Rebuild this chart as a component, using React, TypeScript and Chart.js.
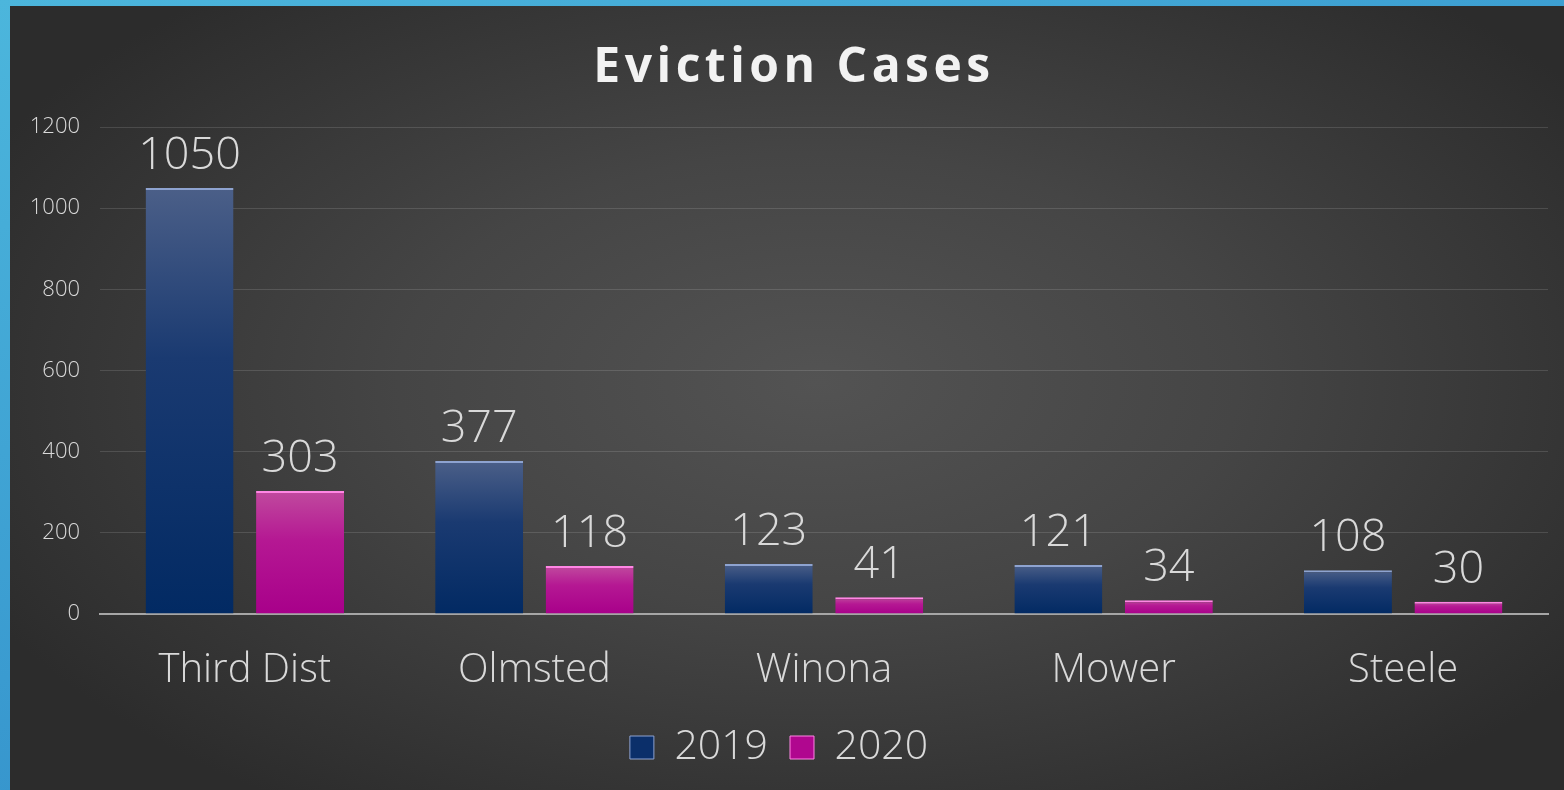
import React, { useEffect, useRef } from "react";
import { Chart, registerables } from "chart.js";

Chart.register(...registerables);

const categories = ["Third Dist", "Olmsted", "Winona", "Mower", "Steele"];
const values2019 = [1050, 377, 123, 121, 108];
const values2020 = [303, 118, 41, 34, 30];
const seriesNames = ["2019", "2020"];
const yTicks = [0, 200, 400, 600, 800, 1000, 1200];
const titleText = "Eviction Cases";

const FONT = "'Open Sans', 'DejaVu Sans', sans-serif";
const TEXT = "#d9d9d9";

const palettes = [
  { solid: "#0b2f6a", top: "#4b5f88", mid: "#1a3a71", bottom: "#022a63", edge: "#8ea3d0" },
  { solid: "#b0078f", top: "#c04a9e", mid: "#b51893", bottom: "#a8008a", edge: "#ff86e4" },
];

function barGradient(pi: number) {
  return (ctx: any) => {
    const chart = ctx.chart;
    const p = palettes[pi];
    if (!chart.chartArea || ctx.type !== "data") return p.solid;
    const ys = chart.scales.y;
    const v = ctx.raw as number;
    const top = ys.getPixelForValue(v);
    const bottom = ys.getPixelForValue(0);
    if (!isFinite(top) || !isFinite(bottom) || bottom - top < 1) return p.solid;
    const g = chart.ctx.createLinearGradient(0, top, 0, bottom);
    g.addColorStop(0, p.top);
    g.addColorStop(0.4, p.mid);
    g.addColorStop(1, p.bottom);
    return g;
  };
}

const titlePlugin = {
  id: "customTitle",
  afterDraw(chart: any) {
    const c = chart.ctx;
    c.save();
    c.font = `bold 48px ${FONT}`;
    c.fillStyle = "#f2f2f2";
    c.textAlign = "center";
    c.textBaseline = "alphabetic";
    try { (c as any).letterSpacing = "4.5px"; } catch (e) {}
    c.fillText(titleText, chart.width / 2 + 7, 76);
    try { (c as any).letterSpacing = "0px"; } catch (e) {}
    c.restore();
  },
};

const valueLabelPlugin = {
  id: "valueLabels",
  afterDatasetsDraw(chart: any) {
    const c = chart.ctx;
    c.save();
    c.font = `300 45px ${FONT}`;
    c.fillStyle = TEXT;
    c.textAlign = "center";
    c.textBaseline = "alphabetic";
    chart.data.datasets.forEach((ds: any, di: number) => {
      const meta = chart.getDatasetMeta(di);
      meta.data.forEach((el: any, i: number) => {
        c.fillText(String(ds.data[i]), el.x, el.y - 19);
      });
    });
    c.restore();
  },
};

export default function App() {
  const ref = useRef<HTMLCanvasElement | null>(null);

  useEffect(() => {
    document.body.style.margin = "0";
    if (!ref.current) return;
    const chart = new Chart(ref.current, {
      type: "bar",
      data: {
        labels: categories,
        datasets: [
          {
            label: seriesNames[0],
            data: values2019,
            backgroundColor: barGradient(0),
            borderColor: palettes[0].edge,
            borderWidth: { top: 2, left: 0, right: 0, bottom: 0 },
            borderSkipped: "bottom",
            categoryPercentage: 0.763,
            barPercentage: 0.796,
          },
          {
            label: seriesNames[1],
            data: values2020,
            backgroundColor: barGradient(1),
            borderColor: palettes[1].edge,
            borderWidth: { top: 2, left: 0, right: 0, bottom: 0 },
            borderSkipped: "bottom",
            categoryPercentage: 0.763,
            barPercentage: 0.796,
          },
        ],
      },
      options: {
        animation: false,
        responsive: true,
        maintainAspectRatio: false,
        layout: { padding: { top: 121, left: 0, right: 16, bottom: 12 } },
        scales: {
          x: {
            grid: { display: false, drawTicks: false },
            border: { display: true, color: "#a6a6a6", width: 2 },
            ticks: { color: TEXT, font: { family: FONT, size: 40, weight: "300" as any }, padding: 33 },
            afterFit: (s: any) => { s.height = 91; },
          },
          y: {
            min: 0,
            max: 1200,
            afterBuildTicks: (s: any) => { s.ticks = yTicks.map((v) => ({ value: v })); },
            grid: { color: "rgba(255,255,255,0.13)", lineWidth: 1, drawTicks: false },
            border: { display: false },
            ticks: {
              color: TEXT,
              font: { family: FONT, size: 22, weight: "300" as any },
              padding: 20,
              callback: (v: any) => String(v),
            },
            afterFit: (s: any) => { s.width = 90; },
          },
        },
        plugins: {
          title: { display: false },
          tooltip: { enabled: false },
          legend: {
            position: "bottom",
            labels: {
              color: TEXT,
              font: { family: FONT, size: 41, weight: "300" as any },
              boxWidth: 24,
              boxHeight: 23,
              padding: 22,
              generateLabels: (ch: any) =>
                ch.data.datasets.map((ds: any, i: number) => ({
                  text: ds.label,
                  fillStyle: palettes[i].solid,
                  strokeStyle: palettes[i].edge,
                  lineWidth: 1,
                  fontColor: TEXT,
                  hidden: false,
                  datasetIndex: i,
                })),
            },
          },
        },
      },
      plugins: [valueLabelPlugin, titlePlugin],
    });
    return () => chart.destroy();
  }, []);

  return (
    <div
      style={{
        position: "fixed",
        inset: 0,
        background: "linear-gradient(160deg, #4cb6dc 0%, #3a9bd0 50%, #2a7fbf 100%)",
      }}
    >
      <div
        style={{
          position: "absolute",
          left: 10,
          top: 6,
          right: 0,
          bottom: 0,
          background: "radial-gradient(ellipse 60% 65% at 52% 48%, #535353 0%, #454545 45%, #2c2c2c 100%)",
        }}
      >
        <canvas ref={ref} />
      </div>
    </div>
  );
}
